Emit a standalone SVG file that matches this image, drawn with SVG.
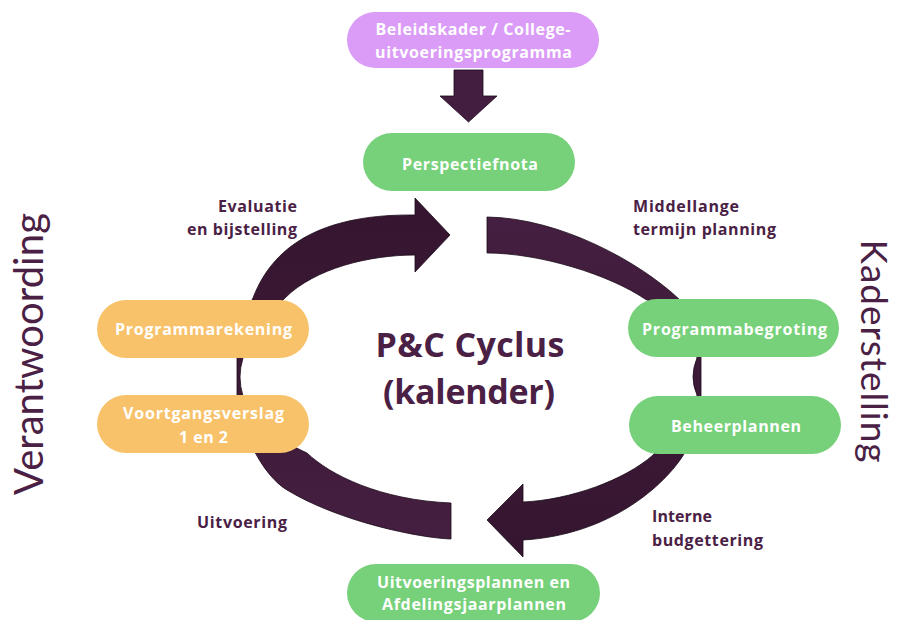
<svg xmlns="http://www.w3.org/2000/svg" width="898" height="620" viewBox="0 0 898 620">
  <style>
    .bx text{fill:#fff;font-family:"Open Sans","Liberation Sans",sans-serif;font-weight:700;font-size:16px;text-anchor:middle}
    .green{fill:#76D17A}
    .orange{fill:#F8C26B}
    .purple{fill:#DA9CF6}
    .lbl{fill:#4A2145;font-family:"Open Sans","Liberation Sans",sans-serif;font-weight:700;font-size:16px}
    .big{fill:#4A2145;font-family:"Open Sans","Liberation Sans",sans-serif;font-weight:700;font-size:34px;text-anchor:middle}
    .side{fill:#4A2145;font-family:Lato,"Liberation Sans",sans-serif;font-weight:400;font-size:40px;text-anchor:middle}
    .arw{stroke:#1a0a18;stroke-width:0.8;stroke-linejoin:miter}
  </style>
  <defs>
    <linearGradient id="gl" gradientUnits="userSpaceOnUse" x1="0" y1="539" x2="0" y2="215">
      <stop offset="0" stop-color="#451F41"/>
      <stop offset="1" stop-color="#35152F"/>
    </linearGradient>
    <linearGradient id="gr" gradientUnits="userSpaceOnUse" x1="0" y1="217" x2="0" y2="557">
      <stop offset="0" stop-color="#451F41"/>
      <stop offset="1" stop-color="#35152F"/>
    </linearGradient>
  </defs>

  <g id="connectors">
    <path id="arrow-top" class="arw" fill="#441E40" d="M454,70 L483,70 L483,96 L497,96 L468.5,122 L440,96 L454,96 Z"/>
    <path id="arrow-left" class="arw" fill="url(#gl)" d="M451,539 C420,538 340,522 287,490 C262,475 240,430 237,395 L237,358 C238,335 245,312 253,298 C275,240 330,214 415,215 L415,198 L450,235 L415,272 L415,255 C370,255 315,268 285,298 C265,318 246,338 243,358 Q237,377 243,396 C252,420 278,440 307,453 C330,475 380,500 451,503 Z"/>
    <path id="arrow-right" class="arw" fill="url(#gr)" d="M487,217 C560,218 640,262 680,300 C692,312 700,335 701,358 L701,395 C700,420 694,440 684,454 C665,485 610,535 523,540 L523,557 L487,520 L523,484 L523,502 C570,500 625,480 653,455 C675,435 693,415 697,395 Q689,377 697,358 C690,330 670,310 645,299 C610,275 540,253 487,253 Z"/>
  </g>

  <g id="node-beleidskader" class="bx">
    <rect class="purple" x="347" y="12" width="252" height="56" rx="28"/>
    <text x="473" y="35" textLength="195">Beleidskader / College-</text>
    <text x="473.5" y="58" textLength="197">uitvoeringsprogramma</text>
  </g>
  <g id="node-perspectiefnota" class="bx">
    <rect class="green" x="363" y="133" width="212" height="58" rx="29"/>
    <text x="470" y="170" textLength="136">Perspectiefnota</text>
  </g>
  <g id="node-programmarekening" class="bx">
    <rect class="orange" x="97" y="300" width="212" height="58" rx="29"/>
    <text x="203.5" y="335" textLength="177">Programmarekening</text>
  </g>
  <g id="node-voortgangsverslag" class="bx">
    <rect class="orange" x="97" y="395" width="212" height="58" rx="29"/>
    <text x="203.5" y="419" textLength="161">Voortgangsverslag</text>
    <text x="203.5" y="443" textLength="49">1 en 2</text>
  </g>
  <g id="node-programmabegroting" class="bx">
    <rect class="green" x="628" y="299" width="211" height="58" rx="29"/>
    <text x="734.5" y="335" textLength="185">Programmabegroting</text>
  </g>
  <g id="node-beheerplannen" class="bx">
    <rect class="green" x="629" y="396" width="212" height="58" rx="29"/>
    <text x="736" y="432" textLength="130">Beheerplannen</text>
  </g>
  <g id="node-uitvoeringsplannen" class="bx">
    <rect class="green" x="347" y="564" width="253" height="58" rx="29"/>
    <text x="473.5" y="588" textLength="193">Uitvoeringsplannen en</text>
    <text x="474" y="610" textLength="184">Afdelingsjaarplannen</text>
  </g>

  <g id="labels">
    <text class="lbl" x="297" y="212" text-anchor="end" textLength="79">Evaluatie</text>
    <text class="lbl" x="297" y="235" text-anchor="end" textLength="110">en bijstelling</text>
    <text class="lbl" x="633" y="212" textLength="106">Middellange</text>
    <text class="lbl" x="633" y="235" textLength="143">termijn planning</text>
    <text class="lbl" x="197" y="528" textLength="90">Uitvoering</text>
    <text class="lbl" x="652" y="522" textLength="60">Interne</text>
    <text class="lbl" x="652" y="546" textLength="111">budgettering</text>
  </g>

  <g id="title">
    <text class="big" x="470" y="357" textLength="189">P&amp;C Cyclus</text>
    <text class="big" x="469" y="404" textLength="172">(kalender)</text>
  </g>

  <g id="side-labels">
    <text class="side" transform="translate(43,354) rotate(-90)" textLength="282">Verantwoording</text>
    <text class="side" style="font-size:37px" transform="translate(861,351) rotate(90)" textLength="223">Kaderstelling</text>
  </g>
</svg>
